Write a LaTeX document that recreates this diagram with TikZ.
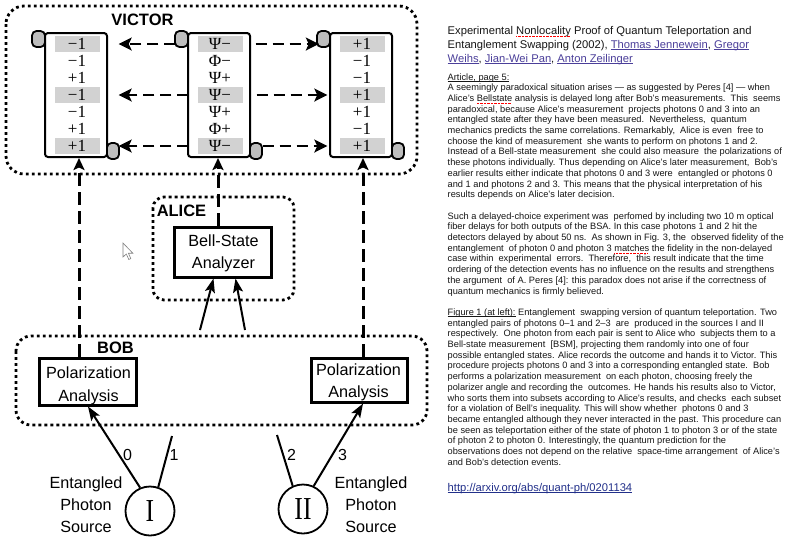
\documentclass[tikz,border=0pt]{standalone}
\usepackage{fontspec}
\setmainfont{Liberation Sans}
\newfontfamily\serifont{Liberation Serif}
\usepackage{graphicx}
\usetikzlibrary{arrows.meta,calc}
\definecolor{hlgray}{HTML}{D2D2D2}
\definecolor{curlgray}{HTML}{BDBDBD}
\definecolor{linkc}{HTML}{4B3F9A}
\definecolor{urlc}{HTML}{22308A}
\definecolor{bodyc}{HTML}{161616}
\newsavebox\ulbox
\newcommand\uline[1]{\sbox\ulbox{#1}\rlap{\rule[-1.4pt]{\wd\ulbox}{0.5pt}}\usebox\ulbox}
\newcommand\spellwave[1]{\sbox\ulbox{#1}\rlap{\textcolor{red}{\hbox to \wd\ulbox{\leaders\hbox{\rule[-2.4pt]{0.7pt}{0.7pt}\hskip0.7pt}\hfill}}}\usebox\ulbox}
\newcommand\lnk[1]{\textcolor{linkc}{\uline{#1}}}
\newcommand\bl[3]{\node[bodytxt] (#1) at (447.5,{80+10.7*#2}) {#3};}
\newcommand\scrollpart[3]{%
  \node[scrollbody] (s#1) at (#2,95) {};
  \draw[curl] ($(s#1.north west)+(-12,-1)$) rectangle ($(s#1.north west)+(1,15)$);
  \draw[curl] ($(s#1.south east)+(-1,-15)$) rectangle ($(s#1.south east)+(11,1)$);
  \foreach \o/\t [count=\i] in {#3} {\node[entry,\o] (#1\i) at (#2+1,{27+17*\i}) {\t};}
}
\begin{document}
\begin{tikzpicture}[x=1pt,y=-1pt,
  dotbox/.style={line width=2.8pt, dash pattern=on 2.8pt off 3.2pt},
  grouplabel/.style={font=\fontsize{16.5}{16.5}\selectfont\bfseries, inner sep=0pt},
  scrollbody/.style={draw, line width=2pt, rounded corners=3pt, fill=white, minimum width=62pt, minimum height=124pt, inner sep=0pt},
  curl/.style={draw, line width=1.8pt, fill=curlgray, rounded corners=4.5pt},
  entry/.style={inner sep=0pt, minimum width=45pt, minimum height=16pt, text height=11.5pt, text depth=0pt, font=\serifont\fontsize{17}{17}\selectfont},
  hl/.style={fill=hlgray}, nohl/.style={},
  hdash/.style={line width=2.4pt, dash pattern=on 11pt off 6pt, -{Stealth[length=13pt,width=13pt,inset=3pt]}},
  vdash/.style={line width=3pt, dash pattern=on 13pt off 6pt, -{Stealth[length=12pt,width=11pt,inset=2.5pt]}},
  photon/.style={line width=2pt},
  parrow/.style={line width=2pt, -{Stealth[length=14pt,width=10pt,inset=3pt]}},
  abox/.style={draw, line width=3pt, inner sep=0pt},
  boxtxt/.style={font=\fontsize{16.2}{16.2}\selectfont, inner sep=0pt, anchor=base},
  src/.style={draw, circle, line width=1.8pt, minimum size=49pt, inner sep=0pt, font=\serifont\fontsize{32}{32}\selectfont},
  numlbl/.style={font=\fontsize{16}{16}\selectfont, inner sep=0pt, anchor=base},
  bodytxt/.style={anchor=base west, inner sep=0pt, font=\fontsize{9.25}{10.7}\selectfont, text=bodyc},
  titletxt/.style={anchor=base west, inner sep=0pt, font=\fontsize{11.2}{14}\selectfont, text=bodyc}]
\useasboundingbox (0,0) rectangle (800,550);
\fill[white] (0,0) rectangle (800,550);

% group boundaries
\draw[dotbox, rounded corners=18pt] (6,6) rectangle (417,174);
\draw[dotbox, rounded corners=11pt] (153,197) rectangle (294,300);
\draw[dotbox, rounded corners=15pt] (16,336) rectangle (427,425);
\node[grouplabel] (victorlbl) at (142.5,20) {VICTOR};
\node[grouplabel] (alicelbl) at (181.5,211) {ALICE};
\node[grouplabel] (boblbl) at (115.5,348) {BOB};

% scrolls
\scrollpart{L}{76}{hl/−1, nohl/−1, nohl/+1, hl/−1, nohl/−1, nohl/+1, hl/+1}
\scrollpart{M}{219}{hl/Ψ−, nohl/Φ−, nohl/Ψ+, hl/Ψ−, nohl/Ψ+, nohl/Φ+, hl/Ψ−}
\scrollpart{R}{361}{hl/+1, nohl/−1, nohl/−1, hl/+1, nohl/+1, nohl/−1, hl/+1}

\draw[hdash] ([xshift=-22]M1.west) -- ([xshift=19]L1.east);
\draw[hdash] ([xshift=-9]M4.west) -- ([xshift=19]L4.east);
\draw[hdash] ([xshift=-9]M7.west) -- ([xshift=19]L7.east);
\draw[hdash] ([xshift=13]M1.east) -- ([xshift=-20.5]R1.west);
\draw[hdash] ([xshift=14]M4.east) -- ([xshift=-12]R4.west);
\draw[hdash] ([xshift=20]M7.east) -- ([xshift=-12]R7.west);

% boxes
\node[abox, minimum width=97pt, minimum height=47pt] (polL) at (87.5,381.5) {};
\node[abox, minimum width=96pt, minimum height=44pt] (polR) at (359,380) {};
\node[abox, minimum width=97pt, minimum height=50pt] (bsa) at (222.5,252) {};
\node[boxtxt] (polLa) at (88.5,378.3) {Polarization};
\node[boxtxt] (polLb) at (88.5,401) {Analysis};
\node[boxtxt] (polRa) at (358.5,375) {Polarization};
\node[boxtxt] (polRb) at (358.5,397.3) {Analysis};
\node[boxtxt] (bsaa) at (223.5,246.7) {Bell-State};
\node[boxtxt] (bsab) at (223.5,268.3) {Analyzer};

\draw[vdash] ([xshift=-8.5]polL.north) -- ([xshift=3]sL.south);
\draw[vdash] ([xshift=-4.5]bsa.north) -- ([xshift=-1]sM.south);
\draw[vdash] ([xshift=4]polR.north) -- ([xshift=2]sR.south);

% sources and photons
\node[src] (I) at (150,511) {\scalebox{0.8}[1]{I}};
\node[src] (II) at (303,509) {\scalebox{0.8}[1]{II}};
\coordinate (p1end) at (172,436);
\coordinate (p2end) at (277,435);
\coordinate (p1top) at (200,330);
\coordinate (p2top) at (245,330);
\draw[parrow] (I.113.5) -- ([xshift=0.5]polL.south);
\draw[photon] (I.71.6) -- (p1end);
\draw[photon] (II.114.4) -- (p2end);
\draw[parrow] (II.65.6) -- ([xshift=4]polR.south);
\draw[parrow] (p1top) -- ($(bsa.south west)!0.41!(bsa.south east)$);
\draw[parrow] (p2top) -- ($(bsa.south west)!0.63!(bsa.south east)$);
\node[numlbl] (n0) at (127.5,460) {0};
\node[numlbl] (n1) at (174,460) {1};
\node[numlbl] (n2) at (291.5,460) {2};
\node[numlbl] (n3) at (342.5,460) {3};
\node[boxtxt] (eL1) at (86,488.5) {Entangled};
\node[boxtxt] (eL2) at (86,510.3) {Photon};
\node[boxtxt] (eL3) at (86,532) {Source};
\node[boxtxt] (eR1) at (371,488.5) {Entangled};
\node[boxtxt] (eR2) at (371,510.3) {Photon};
\node[boxtxt] (eR3) at (371,532) {Source};

% mouse pointer
\draw[gray, line width=0.6pt, fill=white] (123,243) -- (123,257) -- (126.3,254) -- (128.8,259.5) -- (130.8,258.6) -- (128.4,253.2) -- (132.8,253.2) -- cycle;

% text column
\node[titletxt] (ti1) at (447.5,34) {Experimental \spellwave{Nonlocality} Proof of Quantum Teleportation and};
\node[titletxt] (ti2) at (447.5,48) {Entanglement Swapping (2002), \lnk{Thomas Jennewein}, \lnk{Gregor}};
\node[titletxt] (ti3) at (447.5,62) {\lnk{Weihs}, \lnk{Jian-Wei Pan}, \lnk{Anton Zeilinger}};
\bl{b0}{0}{\uline{Article, page 5:}}
\bl{b1}{1}{A seemingly paradoxical situation arises — as suggested by Peres [4] — when}
\bl{b2}{2}{Alice’s \spellwave{Bellstate} analysis is delayed long after Bob’s measurements.\ \ This\ \ seems}
\bl{b3}{3}{paradoxical, because Alice’s measurement\ \ projects photons 0 and 3 into an}
\bl{b4}{4}{entangled state after they have been measured.\ \ Nevertheless,\ \ quantum}
\bl{b5}{5}{mechanics predicts the same correlations. Remarkably,\ \ Alice is even\ \ free to}
\bl{b6}{6}{choose the kind of measurement\ \ she wants to perform on photons 1 and 2.}
\bl{b7}{7}{Instead of a Bell-state measurement\ \ she could also measure\ \ the polarizations of}
\bl{b8}{8}{these photons individually. Thus depending on Alice’s later measurement,\ \ Bob’s}
\bl{b9}{9}{earlier results either indicate that photons 0 and 3 were\ \ entangled or photons 0}
\bl{b10}{10}{and 1 and photons 2 and 3. This means that the physical interpretation of his}
\bl{b11}{11}{results depends on Alice’s later decision.}
\bl{b13}{13}{Such a delayed-choice experiment was\ \ perfomed by including two 10 m optical}
\bl{b14}{14}{fiber delays for both outputs of the BSA. In this case photons 1 and 2 hit the}
\bl{b15}{15}{detectors delayed by about 50 ns.\ \ As shown in Fig. 3, the\ \ observed fidelity of the}
\bl{b16}{16}{entanglement\ \ of photon 0 and photon 3 \spellwave{matches} the fidelity in the non-delayed}
\bl{b17}{17}{case within\ \ experimental\ \ errors.\ \ Therefore,\ \ this result indicate that the time}
\bl{b18}{18}{ordering of the detection events has no influence on the results and strengthens}
\bl{b19}{19}{the argument\ \ of A. Peres [4]: this paradox does not arise if the correctness of}
\bl{b20}{20}{quantum mechanics is firmly believed.}
\bl{b22}{22}{\uline{Figure 1 (at left):} Entanglement\ \ swapping version of quantum teleportation. Two}
\bl{b23}{23}{entangled pairs of photons 0–1 and 2–3\ \ are\ \ produced in the sources I and II}
\bl{b24}{24}{respectively.\ \ One photon from each pair is sent to Alice who\ \ subjects them to a}
\bl{b25}{25}{Bell-state measurement\ \ [BSM], projecting them randomly into one of four}
\bl{b26}{26}{possible entangled states. Alice records the outcome and hands it to Victor. This}
\bl{b27}{27}{procedure projects photons 0 and 3 into a corresponding entangled state.\ \ Bob}
\bl{b28}{28}{performs a polarization measurement\ \ on each photon, choosing freely the}
\bl{b29}{29}{polarizer angle and recording the\ \ outcomes. He hands his results also to Victor,}
\bl{b30}{30}{who sorts them into subsets according to Alice’s results, and checks\ \ each subset}
\bl{b31}{31}{for a violation of Bell’s inequality. This will show whether\ \ photons 0 and 3}
\bl{b32}{32}{became entangled although they never interacted in the past. This procedure can}
\bl{b33}{33}{be seen as teleportation either of the state of photon 1 to photon 3 or of the state}
\bl{b34}{34}{of photon 2 to photon 0. Interestingly, the quantum prediction for the}
\bl{b35}{35}{observations does not depend on the relative\ \ space-time arrangement\ \ of Alice’s}
\bl{b36}{36}{and Bob’s detection events.}
\node[titletxt, text=urlc] (url) at (447.5,491) {\uline{http://arxiv.org/abs/quant-ph/0201134}};
\end{tikzpicture}
\end{document}
